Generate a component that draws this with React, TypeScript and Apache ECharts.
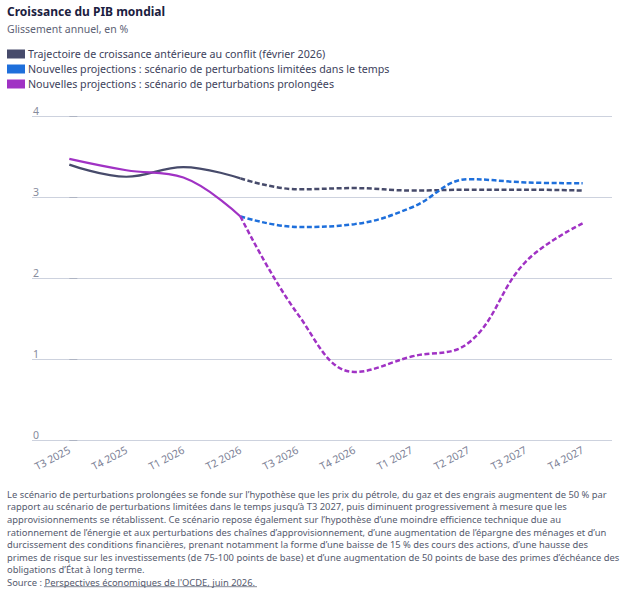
import React, { useEffect, useRef } from "react";
import * as echarts from "echarts";

const categories = ["T3 2025", "T4 2025", "T1 2026", "T2 2026", "T3 2026", "T4 2026", "T1 2027", "T2 2027", "T3 2027", "T4 2027"];
const yTicks = [0, 1, 2, 3, 4];

const seriesNames = [
  "Trajectoire de croissance antérieure au conflit (février 2026)",
  "Nouvelles projections : scénario de perturbations limitées dans le temps",
  "Nouvelles projections : scénario de perturbations prolongées",
];

// values per quarter (null = no value)
const preConflict = [3.40, 3.25, 3.37, 3.23, 3.095, 3.11, 3.08, 3.09, 3.09, 3.08];
const limited = [null, null, null, 2.76, 2.63, 2.665, 2.87, 3.22, 3.18, 3.17];
const prolonged = [3.47, 3.33, 3.24, 2.76, 1.56, 0.84, 1.03, 1.20, 2.20, 2.675];
const lastObservedIndex = 3; // solid up to T2 2026, dashed afterwards

const title = "Croissance du PIB mondial";
const subtitle = "Glissement annuel, en %";
const noteLines = [
  "Le scénario de perturbations prolongées se fonde sur l’hypothèse que les prix du pétrole, du gaz et des engrais augmentent de 50 % par",
  "rapport au scénario de perturbations limitées dans le temps jusqu’à T3 2027, puis diminuent progressivement à mesure que les",
  "approvisionnements se rétablissent. Ce scénario repose également sur l’hypothèse d’une moindre efficience technique due au",
  "rationnement de l’énergie et aux perturbations des chaînes d’approvisionnement, d’une augmentation de l’épargne des ménages et d’un",
  "durcissement des conditions financières, prenant notamment la forme d’une baisse de 15 % des cours des actions, d’une hausse des",
  "primes de risque sur les investissements (de 75-100 points de base) et d’une augmentation de 50 points de base des primes d’échéance des",
  "obligations d’État à long terme.",
];
const sourceLabel = "Source : ";
const sourceLink = "Perspectives économiques de l'OCDE, juin 2026.";

const colors = ["#474b6b", "#1e6fdb", "#a032c4"];

function part(values: (number | null)[], from: number, to: number) {
  const out: [number, number][] = [];
  values.forEach((v, i) => {
    if (v !== null && i >= from && i <= to) out.push([i, v]);
  });
  return out;
}

export default function App() {
  const ref = useRef<HTMLDivElement>(null);
  useEffect(() => {
    if (!ref.current) return;
    const chart = echarts.init(ref.current, undefined, { renderer: "svg" });
    const font = "'Noto Sans', sans-serif";
    const n = categories.length - 1;
    const solid = { width: 2.2, type: "solid" as const };
    const dashed = { width: 2.5, type: [5, 2.5] as any };
    const base = { type: "line", smooth: 0.4, symbol: "none", showSymbol: false, z: 3 };
    const noteFont = `9.4px ${font}`;
    const noteTop = 488;
    const noteLH = 12.6;
    const srcTop = noteTop + noteLH * noteLines.length;
    chart.setOption({
      animation: false,
      textStyle: { fontFamily: font },
      title: [
        { text: title, left: 7, top: 5, padding: 0, textStyle: { fontFamily: font, fontSize: 12, fontWeight: "bold", color: "#1b2040" } },
        { text: subtitle, left: 7, top: 23, padding: 0, textStyle: { fontFamily: font, fontSize: 10.5, fontWeight: "normal", color: "#5d6275" } },
      ],
      legend: {
        left: 7,
        top: 48,
        padding: 0,
        orient: "vertical",
        itemWidth: 18,
        itemHeight: 9,
        itemGap: 3,
        icon: "rect",
        data: seriesNames.map((name, i) => ({ name, itemStyle: { color: colors[i] } })),
        textStyle: { fontFamily: font, fontSize: 10.7, color: "#3d425c", lineHeight: 12, padding: [0, 0, 0, -2] },
      },
      grid: { left: 32, right: 16, top: 116, bottom: 153, containLabel: false },
      xAxis: {
        type: "value",
        min: -0.654,
        max: n + 0.514,
        axisLine: { show: false },
        axisTick: { show: false },
        splitLine: { show: false },
        axisLabel: {
          customValues: categories.map((_, i) => i),
          formatter: (v: number) => categories[Math.round(v)] ?? "",
          rotate: 28,
          margin: 9,
          fontSize: 10.5,
          color: "#7c8196",
          fontFamily: font,
        },
      },
      yAxis: {
        type: "value",
        min: 0,
        max: 4,
        interval: 1,
        axisLine: { show: false },
        axisTick: { show: true, inside: true, length: 8, lineStyle: { color: "#aeb4c3" } },
        splitLine: { lineStyle: { color: "#cdd2de", width: 1.2 } },
        axisLabel: {
          inside: true,
          verticalAlign: "bottom",
          margin: 1,
          fontSize: 10.5,
          color: "#868b9c",
          fontFamily: font,
          customValues: yTicks,
        },
      },
      series: [
        { ...base, name: seriesNames[0], color: colors[0], lineStyle: { ...solid, color: colors[0] }, data: part(preConflict, 0, lastObservedIndex) },
        { ...base, name: seriesNames[0], color: colors[0], lineStyle: { ...dashed, color: colors[0] }, data: part(preConflict, lastObservedIndex, n) },
        { ...base, name: seriesNames[1], color: colors[1], lineStyle: { ...dashed, color: colors[1] }, data: part(limited, lastObservedIndex, n) },
        { ...base, name: seriesNames[2], color: colors[2], lineStyle: { ...solid, color: colors[2] }, data: part(prolonged, 0, lastObservedIndex) },
        { ...base, name: seriesNames[2], color: colors[2], lineStyle: { ...dashed, color: colors[2] }, data: part(prolonged, lastObservedIndex, n) },
      ],
      graphic: [
        {
          type: "text",
          left: 7,
          top: noteTop,
          style: { text: noteLines.join("\n"), font: noteFont, lineHeight: noteLH, fill: "#555a6e" },
        },
        {
          type: "text",
          left: 7,
          top: srcTop,
          style: {
            text: sourceLabel + "{link|" + sourceLink + "}",
            font: noteFont,
            lineHeight: noteLH,
            fill: "#555a6e",
            rich: { link: { font: noteFont, fill: "#555a6e", lineHeight: noteLH } },
          },
        },
        {
          type: "line",
          shape: { x1: 44, y1: srcTop + 10.5, x2: 257, y2: srcTop + 10.5 },
          style: { stroke: "#555a6e", lineWidth: 0.7 },
        },
      ],
    });
    return () => chart.dispose();
  }, []);
  return <div ref={ref} style={{ position: "absolute", left: 0, top: 0, width: 628, height: 593 }} />;
}
